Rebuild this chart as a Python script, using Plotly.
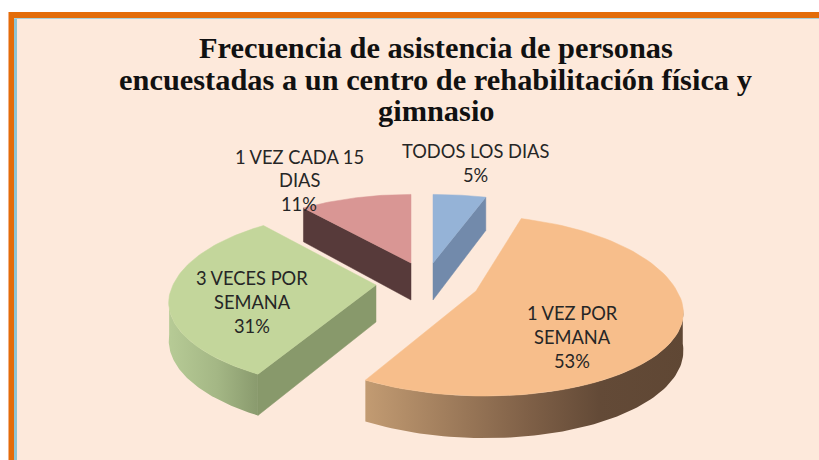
import numpy as np
import plotly.graph_objects as go

# --- data ---
categories = ["TODOS LOS DIAS", "1 VEZ POR SEMANA", "3 VECES POR SEMANA", "1 VEZ CADA 15 DIAS"]
values = [5, 53, 31, 11]
label_lines = [["TODOS LOS DIAS"], ["1 VEZ POR", "SEMANA"], ["3 VECES POR", "SEMANA"], ["1 VEZ CADA 15", "DIAS"]]
title_lines = ["Frecuencia de asistencia de personas",
               "encuestadas a un centro de rehabilitación física y",
               "gimnasio"]

# --- style / layout ---
W, H = 819, 460
BG = "#FDE9DB"
top_colors = ["#95B3D7", "#F7BE8B", "#C3D69B", "#D99694"]
edge_colors = ["#728AAB", None, "#88996B", "#573A3A"]
edge_end = [1, None, 0, 0]  # which radial edge of the slice shows a flat side face
apex = [(433, 263), (476, 291), (376, 285), (411, 263)]
R = [205, 201, 203, 196]
shear = [0, 0.09, 0.02, 0]
back = [1.0, 1.1, 1.08, 1.0]
RY, K, DEPTH = 83, 0.21, 37
arc_grad = {
    1: (366, 690, [[0, "#C29B72"], [0.5, "#7F6047"], [0.72, "#634A37"], [1, "#5F4734"]]),
    2: (168, 257, [[0, "#B7CB96"], [0.55, "#A4B785"], [1, "#8A9B6E"]]),
}
label_pos = [(475, [151, 174.5]), (572, [313, 337, 361]), (252, [278, 302, 326]), (299, [157, 180, 204])]
title_y = [48, 80, 111]
title_x = [436, 435, 436]


def project(i, deg, down=False):
    t = np.radians(deg)
    X, Y = np.sin(t), np.cos(t)
    d = 1 + K * Y
    dy = -RY * Y / d
    dy = np.where(dy < 0, dy * back[i], dy)
    x = apex[i][0] + R[i] * X / d + shear[i] * dy
    y = apex[i][1] + dy
    if down:
        y = y + DEPTH / (1 + 0.12 * Y)
    return x, y


def arc(i, a, b, down=False, n=80):
    return project(i, np.linspace(a, b, n), down)


def point(i, down=False):
    return apex[i][0], apex[i][1] + (DEPTH if down else 0)


fig = go.Figure()
starts = np.concatenate([[0], np.cumsum(values)[:-1]]) * 3.6
ends = np.cumsum(values) * 3.6
for i in [3, 0, 2, 1]:
    a, b = float(starts[i]), float(ends[i])
    # flat side face
    if edge_colors[i]:
        ang = b if edge_end[i] else a
        ex, ey = project(i, ang)
        ex2, ey2 = project(i, ang, True)
        ax, ay = point(i)
        ax2, ay2 = point(i, True)
        fig.add_trace(go.Scatter(x=[ax, float(ex), float(ex2), ax2, ax],
                                 y=[ay, float(ey), float(ey2), ay2, ay],
                                 mode="lines", fill="toself", fillcolor=edge_colors[i],
                                 line=dict(width=0.5, color=edge_colors[i]), hoverinfo="skip"))
    # curved rim
    if i in arc_grad:
        lo, hi = (a, 262) if i == 2 else (100, b)
        x1, y1 = arc(i, lo, hi)
        x2, y2 = arc(i, hi, lo, True)
        xs = np.concatenate([x1, x2, x1[:1]])
        ys = np.concatenate([y1, y2, y1[:1]])
        s, e, cs = arc_grad[i]
        fig.add_trace(go.Scatter(x=xs, y=ys, mode="lines", fill="toself",
                                 fillgradient=dict(type="horizontal", colorscale=cs, start=s, stop=e),
                                 line=dict(width=0), hoverinfo="skip"))
    # top surface
    x, y = arc(i, a, b)
    ax, ay = point(i)
    fig.add_trace(go.Scatter(x=np.concatenate([[ax], x, [ax]]), y=np.concatenate([[ay], y, [ay]]),
                             mode="lines", fill="toself", fillcolor=top_colors[i],
                             line=dict(width=0.5, color=top_colors[i]), hoverinfo="skip",
                             name=categories[i]))

ann = []
for tx, ty, line in zip(title_x, title_y, title_lines):
    ann.append(dict(x=tx, y=ty, text=f"<b>{line}</b>", xref="x", yref="y", showarrow=False,
                    font=dict(family="Liberation Serif", size=30.4, color="#111111")))
for (lx, ys), lines, v in zip(label_pos, label_lines, values):
    for ly, t in zip(ys, lines + [f"{v}%"]):
        ann.append(dict(x=lx, y=ly, text=t, xref="x", yref="y", showarrow=False,
                        font=dict(family="Lato", size=18.3, color="#262626")))

rect = lambda x0, y0, x1, y1, c: dict(type="rect", xref="x", yref="y", x0=x0, y0=y0, x1=x1, y1=y1,
                                      fillcolor=c, line=dict(width=0), layer="below")
shapes = [
    rect(8, 12, 9, H, "#F4B183"),
    rect(9, 12, W, 18, "#E36C09"),
    rect(9, 12, 14, H, "#E36C09"),
    rect(14, 18, 17, H, "#8FC3D2"),
    rect(14, 18, W, 19, "#A9D0D8"),
    rect(17, 19, W, H, BG),
]

fig.update_layout(
    width=W, height=H, margin=dict(l=0, r=0, t=0, b=0), showlegend=False,
    paper_bgcolor="white", plot_bgcolor="white",
    xaxis=dict(range=[0, W], visible=False, fixedrange=True),
    yaxis=dict(range=[H, 0], visible=False, fixedrange=True),
    annotations=ann, shapes=shapes,
)
fig.write_html("out.html", config=dict(displayModeBar=False),
               post_script="document.body.style.margin='0';document.documentElement.style.overflow='hidden';")
